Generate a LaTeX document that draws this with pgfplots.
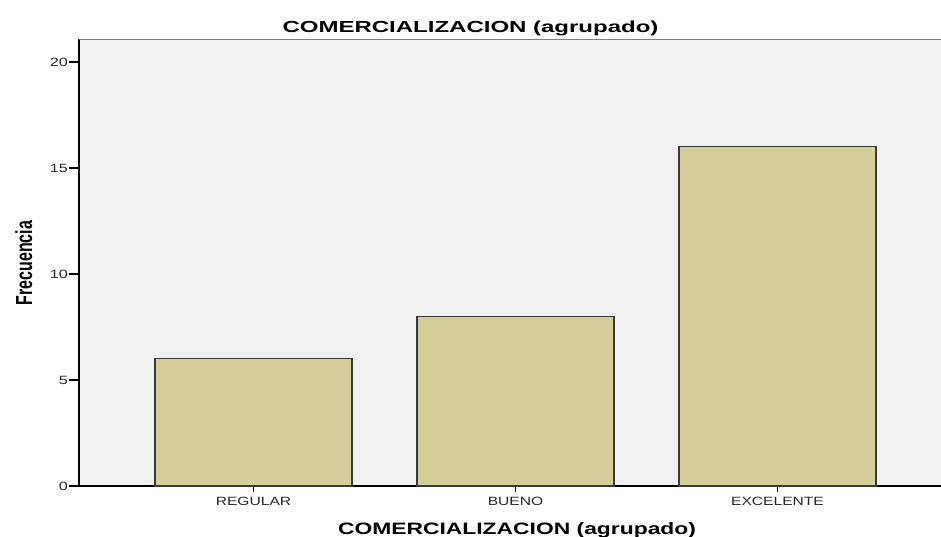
\documentclass[border=0pt]{standalone}
\usepackage{pgfplots}
\pgfplotsset{compat=1.18}
\usepackage{fontspec}
\setmainfont{Liberation Sans}
\usepackage{graphicx}
\definecolor{bg}{HTML}{F0F0F0}
\definecolor{barfill}{HTML}{D3CE98}
\definecolor{baredge}{HTML}{3A3A3A}
\begin{document}
\begin{tikzpicture}
\useasboundingbox (0,0) rectangle (941pt,536pt);
\begin{axis}[
  at={(79pt,50pt)}, anchor=south west,
  scale only axis, width=862pt, height=446.5pt,
  xmin=-0.666, xmax=2.624, ymin=0, ymax=21.06,
  axis x line*=bottom, axis y line*=left,
  axis line style={black, line width=1.3pt},
  axis background/.style={fill=bg},
  ybar, bar width=197pt,
  tick align=outside,
  major tick length=10pt,
  xtick style={/pgfplots/major tick length=6pt, black, line width=1.2pt},
  ytick style={black, line width=1.2pt},
  xtick={0,1,2},
  xticklabels={\scalebox{1.3}[1]{REGULAR},\scalebox{1.3}[1]{BUENO},\scalebox{1.3}[1]{EXCELENTE}},
  ytick={0,5,10,15,20},
  yticklabels={\scalebox{1.35}[1]{0},\scalebox{1.35}[1]{5},\scalebox{1.35}[1]{10},\scalebox{1.35}[1]{15},\scalebox{1.35}[1]{20}},
  ticklabel style={font=\fontsize{12}{12}\selectfont, inner sep=1pt, text=black!85},
  clip=false,
]
\addplot[ybar, fill=barfill, draw=baredge, line width=1.2pt] coordinates {(0,6) (1,8) (2,16)};
\draw[gray, line width=1.2pt] (rel axis cs:0,1) -- (rel axis cs:1,1);
\end{axis}
\node[anchor=base, font=\bfseries\fontsize{16}{16}\selectfont] at (470.5pt,503.3pt) {\scalebox{1.5}[1]{COMERCIALIZACION (agrupado)}};
\node[anchor=base, font=\bfseries\fontsize{16.5}{16.5}\selectfont] at (517pt,2pt) {\scalebox{1.385}[1]{COMERCIALIZACION (agrupado)}};
\node[anchor=base, rotate=90, font=\bfseries\fontsize{16}{16}\selectfont] at (32pt,273pt) {\scalebox{1}[1.45]{Frecuencia}};
\end{tikzpicture}
\end{document}
